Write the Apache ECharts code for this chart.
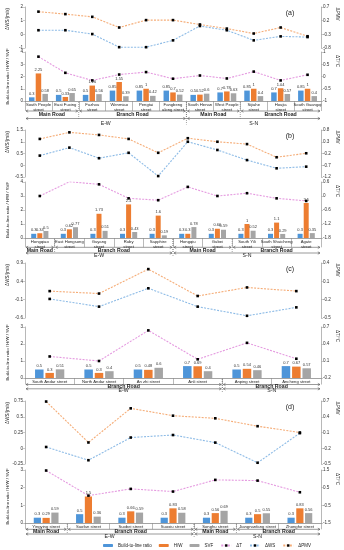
<!DOCTYPE html>
<html><head><meta charset="utf-8">
<script src="https://cdn.jsdelivr.net/npm/echarts@6/dist/echarts.min.js"></script>
<style>html,body{margin:0;padding:0;background:#fff}#c{width:344px;height:550px}</style>
</head><body><div id="c"></div>
<script>
// ---------- Panel (a) ----------
const catsA = ['South People street','East Fuxing street','Fuzhou street','Wenmiao street','Pengtai street','Fangbeng along street','South Henan street','West People street','Sijiahe street','Houjia street','South Guangqi street'];
const btlA = [0.3,0.5,0.5,0.85,0.85,0.85,0.5,0.7,0.85,0.7,0.85];
const hwA  = [2.25,0.33,1.26,1.55,1,0.7,0.52,0.78,1,1.04,1];
const svfA = [0.58,0.65,0.56,0.39,0.42,0.52,0.6,0.63,0.4,0.57,0.4];
const wsA  = [0.3,0.3,0.02,-0.94,-0.94,-0.44,0.61,0.3,-0.44,-0.15,-0.2];
const pmvA = [0.53,0.44,0.34,-0.05,0.22,0.22,0.06,-0.09,-0.27,-0.05,-0.37];
const dtA  = [0.81,0.15,-0.16,0.08,0.18,-0.09,0.04,-0.08,0.2,-0.16,0.07];
const ticksA = [[-1,2,1],[-0.8,0.7,0.5],[0,4,1],[-1,1,0.5]];
const roadsA = [['Main Road',0,1],['Branch Road',2,5],['Main Road',6,7],['Branch Road',8,10]];
const dirsA  = [['E-W',0,5],['S-N',6,10]];

// ---------- Panel (b) ----------
const catsB = ['Hongqiao street','East Hongsong street','Guyang street','Ruby street','Sapphire street','Hongqiu street','Gubei street','South Yili street','South Shuicheng street','Agate street'];
const btlB = [0.3,0.3,0.3,0.3,0.3,0.3,0.3,0.3,0.3,0.3];
const hwB  = [0.34,0.62,1.73,2.4,1.6,0.3,0.66,1,1.1,2.5];
const svfB = [0.5,0.77,0.51,0.43,0.19,0.78,0.59,0.52,0.29,0.35];
const wsB  = [0.41,0.75,0.3,0.53,-0.46,1.0,0.65,0.22,-0.13,-0.06];
const pmvB = [0.42,0.7,0.59,0.42,-0.17,0.45,0.3,0.2,-0.36,-0.19];
const dtB  = [0,0.61,0.5,-0.1,-0.18,0.39,0,0.12,-0.1,-0.21];
const ticksB = [[-0.5,1.5,0.5],[-1.2,0.8,0.5],[0,4,1],[-1.8,0.6,0.6]];
const roadsB = [['Main Road',0,0],['Branch Road',1,4],['Main Road',5,6],['Branch Road',7,9]];
const dirsB  = [['E-W',0,4],['S-N',5,9]];

// ---------- Panel (c) ----------
const catsC = ['South Andar street','North Andar street','An zhi street','Anli street','Anping street','Ancheng street'];
const btlC = [0.5,0.5,0.5,0.7,0.5,0.7];
const hwC  = [0.3,0.3,0.48,0.69,0.54,0.67];
const svfC = [0.51,0.4,0.6,0.4,0.46,0.57];
const wsC  = [-0.08,-0.29,0.21,-0.29,-0.54,-0.31];
const pmvC = [-0.06,-0.1,0.3,-0.14,0,-0.06];
const dtC  = [0.18,0.1,0.64,0.13,0.42,0.14];
const ticksC = [[-0.6,0.9,0.5],[-0.5,0.4,0.3],[0,3,1],[-0.2,0.7,0.3]];
const roadsC = [['Branch Road',0,3],['Branch Road',4,5]];
const dirsC  = [['E-W',0,3],['S-N',4,5]];

// ---------- Panel (d) ----------
const catsD = ['Yingying street','Suofan street','Suobei street','Suoxiu street','Songhu street','Jiangnanfang street','Zhonghe street'];
const btlD = [0.3,0.5,0.3,0.3,0.3,0.3,0.3];
const hwD  = [0.29,1.5,0.66,0.83,0.56,0.5,0.83];
const svfD = [0.59,0.36,0.59,0.58,0.69,0.55,0.56];
const wsD  = [0.02,-0.19,0.17,0.21,0.09,-0.23,0.24];
const pmvD = [0.69,-0.09,0.56,0.42,0.37,0.22,0.1];
const dtD  = [1.47,0.05,0.43,0.28,0.94,0.9,0.24];
const ticksD = [[-0.25,0.75,0.25],[-0.5,0.7,0.3],[0,3,1],[-1.5,1.5,1]];
const roadsD = [['Main Road',0,0],['Branch Road',1,3],['Main Road',4,4],['Branch Road',5,6]];
const dirsD  = [['E-W',0,3],['S-N',4,6]];

const legendNames = ['Build-to-line ratio','H/W','SVF','ΔT','ΔWS','ΔPMV'];

// ---------- layout ----------
const GL = 25, GW = 296;
const panels = [
  {tag:'(a)', cats:catsA, btl:btlA, hw:hwA, svf:svfA, ws:wsA, pmv:pmvA, dt:dtA, ticks:ticksA, roads:roadsA, dirs:dirsA,
   upTop:7, upH:41, loTop:52, loH:49, off:[10,13.3,17.5,22.5], barW:5.5, wrap:true},
  {tag:'(b)', cats:catsB, btl:btlB, hw:hwB, svf:svfB, ws:wsB, pmv:pmvB, dt:dtB, ticks:ticksB, roads:roadsB, dirs:dirsB,
   upTop:130, upH:47, loTop:182, loH:56, off:[9.3,12.5,15,17.7], barW:5, wrap:true},
  {tag:'(c)', cats:catsC, btl:btlC, hw:hwC, svf:svfC, ws:wsC, pmv:pmvC, dt:dtC, ticks:ticksC, roads:roadsC, dirs:dirsC,
   upTop:263, upH:55, loTop:327, loH:51, off:[6.5,9,10.8,13], barW:8.5, wrap:false},
  {tag:'(d)', cats:catsD, btl:btlD, hw:hwD, svf:svfD, ws:wsD, pmv:pmvD, dt:dtD, ticks:ticksD, roads:roadsD, dirs:dirsD,
   upTop:401, upH:63, loTop:470, loH:53, off:[6.3,9,11,13.6], barW:7.2, wrap:false}
];

const FONT = 'Liberation Sans';
const AX = '#a6a6a6';
const grids = [], xAxes = [], yAxes = [], series = [], graphics = [];

function yAx(gi, pos, t){
  return {type:'value', gridIndex:gi, position:pos, min:t[0], max:t[1], interval:t[2],
    axisLine:{show:true, lineStyle:{color:AX, width:0.8}},
    axisTick:{show:true, length:2, lineStyle:{color:AX, width:0.6}},
    splitLine:{show:false},
    axisLabel:{fontSize:4.6, color:'#333', margin:2, fontFamily:FONT}};
}
function txt(x, y, s, fs, opt){
  return Object.assign({type:'text', x:x, y:y, silent:true,
    style:{text:s, fontSize:fs, fontFamily:FONT, fill:'#222', align:'center', verticalAlign:'middle'}}, opt||{});
}
function seg(x1, x2, y){
  const st = {stroke:'#555', lineWidth:0.6, fill:null};
  return [
    {type:'line', silent:true, shape:{x1:x1, y1:y, x2:x2, y2:y}, style:st},
    {type:'polyline', silent:true, shape:{points:[[x1+2.2,y-1.2],[x1,y],[x1+2.2,y+1.2]]}, style:st},
    {type:'polyline', silent:true, shape:{points:[[x2-2.2,y-1.2],[x2,y],[x2-2.2,y+1.2]]}, style:st}
  ];
}
function vdash(x, y1, y2){
  return {type:'line', silent:true, shape:{x1:x, y1:y1, x2:x, y2:y2}, style:{stroke:'#666', lineWidth:0.6, lineDash:[1,1]}};
}

panels.forEach((p, i) => {
  const n = p.cats.length, band = GW / n;
  const gu = 2*i, gl = 2*i + 1;
  grids.push({left:GL, width:GW, top:p.upTop, height:p.upH});
  grids.push({left:GL, width:GW, top:p.loTop, height:p.loH});
  xAxes.push({type:'category', gridIndex:gu, data:p.cats, show:false});
  const wrapFn = p.wrap
    ? (v => v.replace(/ (along )?street$/, '\n$1street'))
    : (v => v);
  xAxes.push({type:'category', gridIndex:gl, data:p.cats,
    axisLine:{show:true, lineStyle:{color:'#8c8c8c', width:0.8}},
    axisTick:{show:true, interval:0, length:p.off[0], lineStyle:{color:'#8c8c8c', width:0.6}},
    axisLabel:{interval:0, fontSize:4.2, color:'#222', margin:1.8, lineHeight:4.8, fontFamily:FONT,
      formatter:wrapFn}});
  yAxes.push(yAx(gu, 'left', p.ticks[0]));
  yAxes.push(yAx(gu, 'right', p.ticks[1]));
  yAxes.push(yAx(gl, 'left', p.ticks[2]));
  yAxes.push(yAx(gl, 'right', p.ticks[3]));
  const y0 = 4*i;
  const lineS = (name, data, xi, yi, color) => ({
    type:'line', name:name, data:data, xAxisIndex:xi, yAxisIndex:yi, color:color,
    symbol:'rect', symbolSize:2.6, itemStyle:{color:'#000'},
    lineStyle:{color:color, width:1.1, type:[2,1.3]}, z:5});
  series.push(lineS('ΔWS', p.ws, gu, y0, '#8dbbe6'));
  series.push(lineS('ΔPMV', p.pmv, gu, y0+1, '#f5ad78'));
  const barS = (name, data, color) => ({
    type:'bar', name:name, data:data, xAxisIndex:gl, yAxisIndex:y0+2,
    barWidth:p.barW, barGap:'22%', itemStyle:{color:color},
    label:{show:true, position:'top', fontSize:4, distance:1.5, color:'#333', fontFamily:FONT}});
  series.push(barS('Build-to-line ratio', p.btl, '#4e95d9'));
  series.push(barS('H/W', p.hw, '#ed7d31'));
  series.push(barS('SVF', p.svf, '#a5a5a5'));
  series.push(lineS('ΔT', p.dt, gl, y0+3, '#e59be0'));

  // panel tag
  graphics.push(txt(290, p.upTop + 6.5, p.tag, 7));
  // axis names
  graphics.push(txt(8, p.upTop + 12, 'ΔWS/(m/s)', 4.5, {rotation:Math.PI/2}));
  graphics.push(txt(337, p.upTop + 7, 'ΔPMV', 4.5, {rotation:-Math.PI/2}));
  graphics.push(txt(8, p.loTop + p.loH/2, 'Build-to-line ratio / H/W / SVF', 4.3, {rotation:Math.PI/2}));
  graphics.push(txt(337, p.loTop + 9, 'ΔT/°C', 4.5, {rotation:-Math.PI/2}));

  // road / direction brackets
  const B = p.loTop + p.loH;
  const edge = k => GL + band * k;
  p.roads.forEach(r => {
    const x1 = edge(r[1]) + 1, x2 = edge(r[2] + 1) - 1;
    graphics.push(...seg(x1, x2, B + p.off[0]));
    graphics.push(txt((x1 + x2)/2, B + p.off[1], r[0], 5.2, {style:{text:r[0], fontSize:5.2, fontFamily:FONT, fontWeight:'bold', fill:'#222', align:'center', verticalAlign:'middle'}}));
    if (r[1] > 0) graphics.push(vdash(edge(r[1]), B + 1, B + p.off[2]));
  });
  p.dirs.forEach(d => {
    const x1 = edge(d[1]) + 1, x2 = edge(d[2] + 1) - 1;
    graphics.push(...seg(x1, x2, B + p.off[2]));
    graphics.push(txt((x1 + x2)/2, B + p.off[3], d[0], 5.2));
    if (d[1] > 0) graphics.push(vdash(edge(d[1]), B + 1, B + p.off[3] + 1));
  });
});

const chart = echarts.init(document.getElementById('c'), null, {renderer:'canvas'});
chart.setOption({
  animation:false,
  backgroundColor:'#fff',
  textStyle:{fontFamily:FONT},
  grid:grids, xAxis:xAxes, yAxis:yAxes, series:series,
  legend:{data:legendNames, left:98, top:538, itemWidth:10, itemHeight:3, itemGap:7,
    textStyle:{fontSize:4.5, color:'#222', fontFamily:FONT}},
  graphic:graphics
});
</script></body></html>
